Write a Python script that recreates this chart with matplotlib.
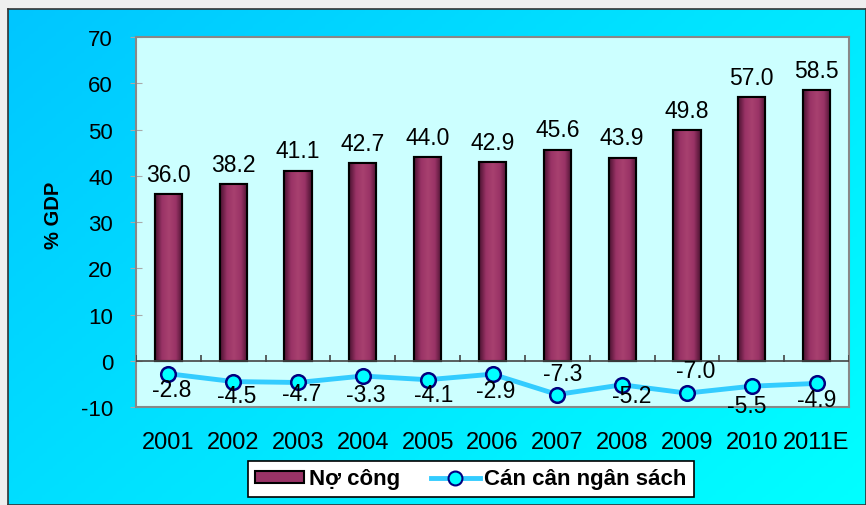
import matplotlib.pyplot as plt
import numpy as np
from matplotlib.patches import Rectangle
from matplotlib.lines import Line2D
from matplotlib.colors import LinearSegmentedColormap

plt.rcParams['font.family'] = ['Liberation Sans', 'DejaVu Sans']

# du lieu
nam = ['2001', '2002', '2003', '2004', '2005', '2006', '2007', '2008', '2009', '2010', '2011E']
no_cong = [36.0, 38.2, 41.1, 42.7, 44.0, 42.9, 45.6, 43.9, 49.8, 57.0, 58.5]
can_can = [-2.8, -4.5, -4.7, -3.3, -4.1, -2.9, -7.3, -5.2, -7.0, -5.5, -4.9]
yticks = [-10, 0, 10, 20, 30, 40, 50, 60, 70]
ytick_labels = ['-10', '0', '10', '20', '30', '40', '50', '60', '70']

# vi tri nhan cua duong (pixel, so voi diem)
nhan_dx = [3, 3, 4, 3, 6, 3, 5, 10, 9, -5, 0]
nhan_dy = [-16, -14, -11, -18, -15, -16, 21, -11, 23, -19, -16]

fig = plt.figure(figsize=(8.66, 5.06), dpi=100)
fig.patch.set_facecolor('#efefef')

# nen xanh cyan
bg = fig.add_axes([8 / 866, 0, 1 - 8 / 866, 1 - 10 / 506], zorder=-10)
gx, gy = np.meshgrid(np.linspace(0, 1, 200), np.linspace(0, 1, 200))
grad = (gx * 0.6 + gy * 0.4)
cmap_bg = LinearSegmentedColormap.from_list('bg', ['#00c6ff', '#00e4ff', '#00ffff'])
bg.imshow(grad, cmap=cmap_bg, aspect='auto', extent=[0, 1, 0, 1], origin='upper')
bg.set_xlim(0, 1)
bg.set_ylim(0, 1)
bg.set_xticks([])
bg.set_yticks([])
for s in bg.spines.values():
    s.set_color('#333333')
    s.set_linewidth(1.2)

ax = fig.add_axes([136 / 866, 1 - 408 / 506, 713 / 866, 370 / 506])
ax.set_facecolor('#ccffff')
x = np.arange(len(nam))

bars = ax.bar(x, no_cong, width=0.42, color='#993366', edgecolor='black', linewidth=1.5, zorder=3)
cmap_bar = LinearSegmentedColormap.from_list('bar', ['#4a1230', '#993366', '#a8406f', '#993366', '#4a1230'])
for b in bars:
    im = ax.imshow(np.linspace(0, 1, 100).reshape(1, -1), cmap=cmap_bar, aspect='auto',
                   extent=[b.get_x(), b.get_x() + b.get_width(), 0, b.get_height()], zorder=3.5)
    im.set_clip_path(b)
    ax.add_patch(Rectangle((b.get_x(), 0), b.get_width(), b.get_height(), fill=False,
                           edgecolor='black', linewidth=1.5, zorder=4))
    ax.annotate(f'{b.get_height():.1f}', (b.get_x() + b.get_width() / 2, b.get_height()),
                xytext=(0, 20), textcoords='offset pixels', ha='center', va='center',
                fontsize=16.5, zorder=6)

ax.plot(x, can_can, color='#33ccff', linewidth=3.5, marker='o', markersize=10.5,
        markerfacecolor='#00ffff', markeredgecolor='#000080', markeredgewidth=1.8, zorder=5)
for i, v in enumerate(can_can):
    ax.annotate(f'{v:.1f}', (x[i], v), xytext=(nhan_dx[i], nhan_dy[i]), textcoords='offset pixels',
                ha='center', va='center', fontsize=16.5, zorder=6)

# truc x tai 0
ax.axhline(0, color='#444444', linewidth=1.2, zorder=4)
ax.vlines(np.arange(len(nam) + 1) - 0.5, -0.3, 1.3, color='#444444', linewidth=1.2, zorder=4)

ax.set_xlim(-0.5, len(nam) - 0.5)
ax.set_ylim(-10, 70)
ax.set_yticks(yticks)
ax.set_yticklabels(ytick_labels, fontsize=16)
ax.set_xticks(x)
ax.set_xticklabels(nam, fontsize=17)
ax.tick_params(axis='x', length=0, pad=17)
ax.tick_params(axis='y', direction='inout', length=9, color='#aaaaaa', pad=12)
for s in ax.spines.values():
    s.set_color('#888888')
    s.set_linewidth(1.5)

ax.set_ylabel('% GDP', fontsize=14.5, fontweight='bold')
ax.yaxis.set_label_coords(-0.103, 0.52)

h_bar = Rectangle((0, 0), 1, 1, facecolor='#993366', edgecolor='black', linewidth=1.5)
h_line = Line2D([], [], color='#33ccff', linewidth=3.5, marker='o', markersize=10,
                markerfacecolor='#00ffff', markeredgecolor='#000080', markeredgewidth=1.5)
leg = fig.legend([h_bar, h_line], ['Nợ công', 'Cán cân ngân sách'], loc='center',
                 bbox_to_anchor=(471 / 866, 1 - 480 / 506), ncol=2, frameon=True, fancybox=False,
                 prop={'size': 16, 'weight': 'bold'}, handlelength=2.2, handleheight=0.45,
                 handletextpad=0.2, columnspacing=1.4, borderpad=0.35, borderaxespad=0)
leg.get_frame().set_edgecolor('black')
leg.get_frame().set_linewidth(1.2)
leg.get_frame().set_facecolor('white')
leg.get_frame().set_alpha(1)

fig.savefig('out.png', dpi=100, facecolor=fig.get_facecolor())
